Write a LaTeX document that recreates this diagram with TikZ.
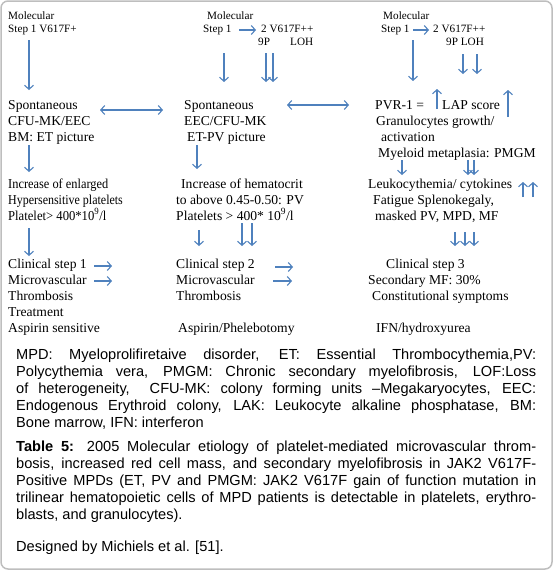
\documentclass[tikz,border=0pt]{standalone}
\usepackage{fontspec}
\usetikzlibrary{arrows.meta}
\newfontfamily\serifTR{Liberation Serif}
\newfontfamily\capsans[Ligatures=TeX]{Liberation Sans}
\definecolor{arrowblue}{RGB}{79,129,189}
\definecolor{framegrey}{RGB}{190,190,190}
\newcommand{\bodyfnt}{\serifTR\fontsize{13.6}{16}\selectfont}
\newcommand{\hdrfnt}{\serifTR\fontsize{11.2}{13}\selectfont}
\newcommand{\capfnt}{\capsans\fontsize{14.6}{17}\selectfont}
\newcommand{\capprep}{\hyphenpenalty=10000\relax\emergencystretch=10pt\relax}
\begin{document}
\begin{tikzpicture}[x=1pt,y=-1pt,
  txt/.style={anchor=base west, inner sep=0pt, font=\bodyfnt},
  hdr/.style={anchor=base west, inner sep=0pt, font=\hdrfnt},
  captxt/.style={anchor=base west, inner sep=0pt, text width=520pt, align=justify, font=\capfnt},
  arr/.style={draw=arrowblue, line width=1.1pt, -{Straight Barb[length=4pt,width=9pt]}},
  darr/.style={draw=arrowblue, line width=1.1pt, {Straight Barb[length=4pt,width=9pt]}-{Straight Barb[length=4pt,width=9pt]}}]
\useasboundingbox (0,0) rectangle (553,570);
\draw[framegrey, line width=1.5pt, rounded corners=7pt] (1,1) rectangle (552,569);

% ---------- column 1 ----------
\node[hdr] (m1) at (8,19) {Molecular};
\node[hdr] (s1) at (8,32) {Step 1 V617F+};
\node[txt] (c1a) at (8,109) {Spontaneous};
\node[txt] (c1b) at (8,125) {CFU-MK/EEC};
\node[txt] (c1c) at (8,141) {BM: ET picture};
\node[txt] (c1d) at (8,188) {\scalebox{0.91}[1]{Increase of enlarged}};
\node[txt] (c1e) at (8,204) {\scalebox{0.88}[1]{Hypersensitive platelets}};
\node[txt] (c1f) at (8,220) {\scalebox{0.93}[1]{Platelet> 400*10\textsuperscript{9}/l}};
\node[txt] (c1g) at (8,268) {Clinical step 1};
\node[txt] (c1h) at (8,284) {Microvascular};
\node[txt] (c1i) at (8,300) {Thrombosis};
\node[txt] (c1j) at (8,316) {Treatment};
\node[txt] (c1k) at (8,332) {Aspirin sensitive};

% ---------- column 2 ----------
\node[hdr] (m2) at (207,19) {Molecular};
\node[hdr] (s2) at (203,32) {Step 1};
\node[hdr] (v2) at (261,32) {2 V617F++};
\node[hdr] (p2) at (258,45) {9P};
\node[hdr] (l2) at (290,45) {LOH};
\node[txt] (c2a) at (184,109) {Spontaneous};
\node[txt] (c2b) at (184,125) {EEC/CFU-MK};
\node[txt] (c2c) at (187,141) {ET-PV picture};
\node[txt] (c2d) at (181,188) {Increase of hematocrit};
\node[txt] (c2e) at (176,204) {to above 0.45-0.50: PV};
\node[txt] (c2f) at (176,220) {Platelets > 400* 10\textsuperscript{9}/l};
\node[txt] (c2g) at (176,268) {Clinical step 2};
\node[txt] (c2h) at (176,284) {Microvascular};
\node[txt] (c2i) at (176,300) {Thrombosis};
\node[txt] (c2k) at (178,332) {Aspirin/Phelebotomy};

% ---------- column 3 ----------
\node[hdr] (m3) at (383,19) {Molecular};
\node[hdr] (s3) at (381,32) {Step 1};
\node[hdr] (v3) at (433,32) {2 V617F++};
\node[hdr] (p3) at (446,45) {9P LOH};
\node[txt] (c3a) at (375,109) {PVR-1 =};
\node[txt] (c3b) at (442,109) {LAP score};
\node[txt] (c3c) at (376,125) {Granulocytes growth/};
\node[txt] (c3d) at (381,141) {activation};
\node[txt] (c3e) at (378,157) {Myeloid metaplasia: PMGM};
\node[txt] (c3f) at (368,188) {Leukocythemia/ cytokines};
\node[txt] (c3g) at (373,204) {Fatigue Splenokegaly,};
\node[txt] (c3h) at (375,220) {masked PV, MPD, MF};
\node[txt] (c3i) at (386,268) {Clinical step 3};
\node[txt] (c3j) at (368,284) {Secondary MF: 30\%};
\node[txt] (c3k) at (372,300) {Constitutional symptoms};
\node[txt] (c3l) at (376,332) {IFN/hydroxyurea};

% ---------- arrow end points ----------
\coordinate (a1s) at (29,40);  \coordinate (a1e) at (29,90);
\coordinate (d1s) at (100,110); \coordinate (d1e) at (163,110);
\coordinate (a2s) at (29,145); \coordinate (a2e) at (29,172);
\coordinate (a3s) at (29,228); \coordinate (a3e) at (29,256);
\coordinate (r1s) at (94,266); \coordinate (r1e) at (112,266);
\coordinate (r2s) at (94,281); \coordinate (r2e) at (112,281);

\coordinate (h2s) at (239,30); \coordinate (h2e) at (256,30);
\coordinate (b1s) at (224,53); \coordinate (b1e) at (224,82);
\coordinate (b2s) at (266,53); \coordinate (b2e) at (266,82);
\coordinate (b3s) at (273,53); \coordinate (b3e) at (273,82);
\coordinate (d2s) at (287,105); \coordinate (d2e) at (349,105);
\coordinate (b4s) at (197,145); \coordinate (b4e) at (197,169);
\coordinate (b5s) at (199,230); \coordinate (b5e) at (199,246);
\coordinate (b6s) at (242,223); \coordinate (b6e) at (242,246);
\coordinate (b7s) at (252,223); \coordinate (b7e) at (252,246);
\coordinate (r3s) at (275,267); \coordinate (r3e) at (293,267);
\coordinate (r4s) at (273,281); \coordinate (r4e) at (292,281);

\coordinate (h3s) at (413,30); \coordinate (h3e) at (429,30);
\coordinate (e1s) at (413,40); \coordinate (e1e) at (413,81);
\coordinate (e2s) at (463,54); \coordinate (e2e) at (463,74);
\coordinate (e3s) at (477,54); \coordinate (e3e) at (477,74);
\coordinate (u1s) at (437,109); \coordinate (u1e) at (437,89);
\coordinate (u2s) at (508,117); \coordinate (u2e) at (508,90);
\coordinate (e4s) at (402,160); \coordinate (e4e) at (402,175);
\coordinate (e5s) at (468,160); \coordinate (e5e) at (468,175);
\coordinate (e6s) at (474,160); \coordinate (e6e) at (474,175);
\coordinate (u3s) at (523,197); \coordinate (u3e) at (523,182);
\coordinate (u4s) at (533,197); \coordinate (u4e) at (533,182);
\coordinate (e7s) at (455,232); \coordinate (e7e) at (455,246);
\coordinate (e8s) at (465,232); \coordinate (e8e) at (465,246);
\coordinate (e9s) at (474,232); \coordinate (e9e) at (474,246);

\foreach \p in {a1,a2,a3,r1,r2,h2,b1,b2,b3,b4,b5,b6,b7,r3,r4,h3,e1,e2,e3,u1,u2,e4,e5,e6,u3,u4,e7,e8,e9}
  \draw[arr] (\p s) -- (\p e);
\draw[darr] (d1s) -- (d1e);
\draw[darr] (d2s) -- (d2e);

% ---------- caption ----------
\node[captxt] (cap1) at (16,359) {\capprep MPD: Myeloprolifiretaive disorder, ET: Essential Thrombocythemia,PV:\linebreak
Polycythemia vera, PMGM: Chronic secondary myelofibrosis, LOF:Loss\linebreak
of heterogeneity,\ \ CFU-MK: colony forming units –Megakaryocytes, EEC:\linebreak
Endogenous Erythroid colony, LAK: Leukocyte alkaline phosphatase, BM:\linebreak
Bone marrow, IFN: interferon};
\node[captxt] (cap2) at (16,451) {\capprep\textbf{Table 5:} 2005 Molecular etiology of platelet-mediated microvascular throm-\linebreak
bosis, increased red cell mass, and secondary myelofibrosis in JAK2 V617F-\linebreak
Positive MPDs (ET, PV and PMGM: JAK2 V617F gain of function mutation in\linebreak
trilinear hematopoietic cells of MPD patients is detectable in platelets, erythro-\linebreak
blasts, and granulocytes).};
\node[captxt] (cap3) at (16,551) {\capprep Designed by Michiels et al. [51].};
\end{tikzpicture}
\end{document}
